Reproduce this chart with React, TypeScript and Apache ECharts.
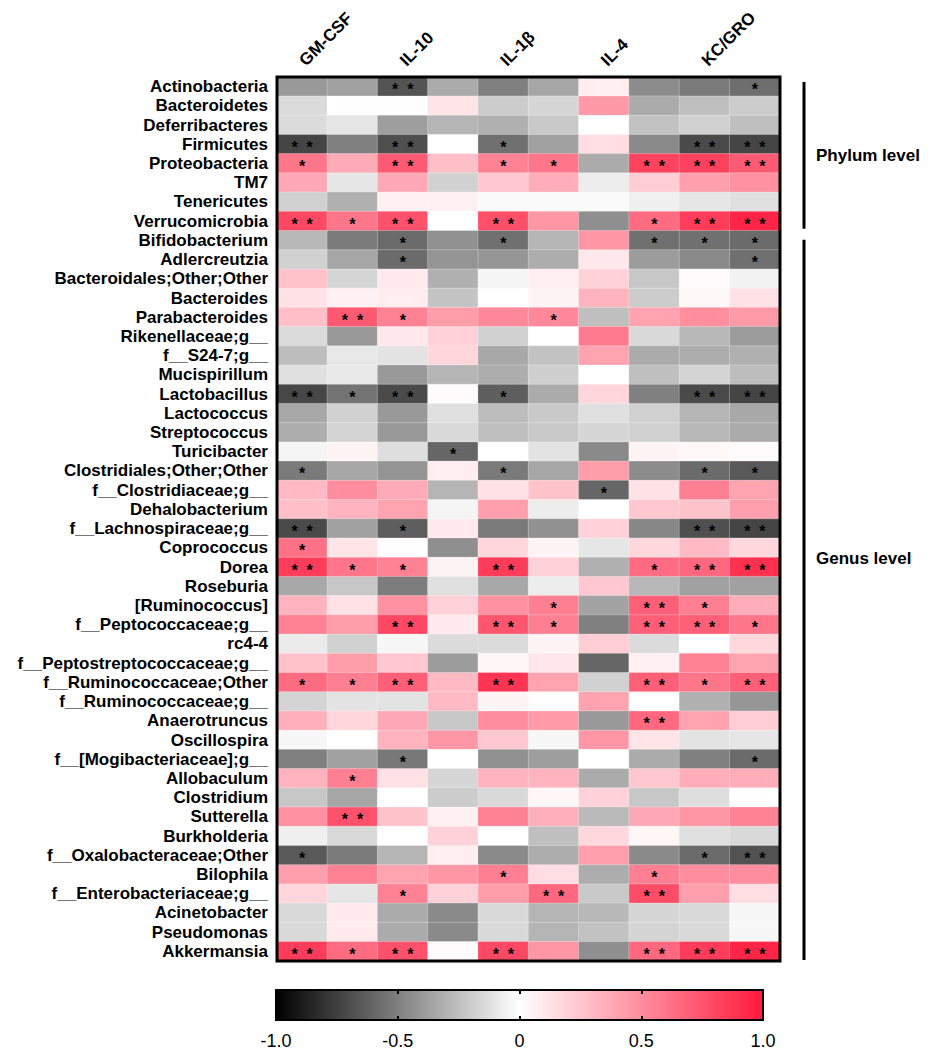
import React, { useEffect, useRef } from "react";
import * as echarts from "echarts";

const cytokines = ["GM-CSF", "IFN-γ", "IL-10", "IL-12p70", "IL-1β", "IL-2", "IL-4", "IL-5", "KC/GRO", "TNF-α"];

const phyla = [
  "Actinobacteria", "Bacteroidetes", "Deferribacteres", "Firmicutes",
  "Proteobacteria", "TM7", "Tenericutes", "Verrucomicrobia",
];

const genera = [
  "Bifidobacterium", "Adlercreutzia", "Bacteroidales;Other;Other", "Bacteroides",
  "Parabacteroides", "Rikenellaceae;g__", "f__S24-7;g__", "Mucispirillum",
  "Lactobacillus", "Lactococcus", "Streptococcus", "Turicibacter",
  "Clostridiales;Other;Other", "f__Clostridiaceae;g__", "Dehalobacterium",
  "f__Lachnospiraceae;g__", "Coprococcus", "Dorea", "Roseburia", "[Ruminococcus]",
  "f__Peptococcaceae;g__", "rc4-4", "f__Peptostreptococcaceae;g__",
  "f__Ruminococcaceae;Other", "f__Ruminococcaceae;g__", "Anaerotruncus",
  "Oscillospira", "f__[Mogibacteriaceae];g__", "Allobaculum", "Clostridium",
  "Sutterella", "Burkholderia", "f__Oxalobacteraceae;Other", "Bilophila",
  "f__Enterobacteriaceae;g__", "Acinetobacter", "Pseudomonas", "Akkermansia",
];

const phylumCorr = [
  [-0.40, -0.37, -0.67, -0.33, -0.50, -0.35, 0.08, -0.45, -0.52, -0.57],
  [-0.14, 0.01, 0.01, 0.12, -0.20, -0.16, 0.45, -0.33, -0.25, -0.20],
  [-0.14, -0.10, -0.38, -0.29, -0.31, -0.21, 0.00, -0.24, -0.18, -0.25],
  [-0.73, -0.50, -0.69, 0.00, -0.56, -0.37, 0.15, -0.46, -0.71, -0.73],
  [0.60, 0.37, 0.72, 0.28, 0.55, 0.60, -0.33, 0.82, 0.83, 0.72],
  [0.38, -0.10, 0.38, -0.18, 0.24, 0.36, -0.07, 0.22, 0.42, 0.48],
  [-0.18, -0.31, 0.06, 0.06, -0.02, -0.02, -0.02, -0.06, -0.10, -0.12],
  [0.80, 0.60, 0.76, 0.00, 0.77, 0.46, -0.44, 0.64, 0.85, 0.95],
];

const genusCorr = [
  [-0.28, -0.52, -0.58, -0.43, -0.56, -0.29, 0.46, -0.56, -0.56, -0.58],
  [-0.18, -0.35, -0.58, -0.42, -0.41, -0.32, 0.10, -0.39, -0.46, -0.56],
  [0.27, -0.16, 0.09, -0.31, -0.04, 0.08, 0.20, -0.22, 0.02, -0.05],
  [0.13, 0.06, 0.08, -0.23, 0.00, 0.05, 0.33, -0.20, 0.03, 0.13],
  [0.28, 0.73, 0.55, 0.43, 0.52, 0.52, -0.25, 0.40, 0.49, 0.44],
  [-0.14, -0.40, 0.10, 0.20, -0.18, 0.00, 0.58, -0.15, -0.28, -0.39],
  [-0.26, -0.09, -0.11, 0.18, -0.34, -0.24, 0.40, -0.33, -0.32, -0.31],
  [-0.12, -0.09, -0.40, -0.29, -0.32, -0.19, 0.00, -0.25, -0.17, -0.26],
  [-0.72, -0.55, -0.71, 0.02, -0.63, -0.33, 0.18, -0.50, -0.71, -0.73],
  [-0.34, -0.18, -0.40, -0.12, -0.26, -0.21, -0.12, -0.18, -0.29, -0.34],
  [-0.32, -0.17, -0.40, -0.15, -0.25, -0.21, -0.16, -0.18, -0.28, -0.33],
  [-0.04, 0.05, -0.13, -0.60, 0.00, -0.11, -0.46, 0.05, 0.03, 0.02],
  [-0.52, -0.35, -0.42, 0.08, -0.52, -0.35, 0.43, -0.45, -0.58, -0.65],
  [0.30, 0.50, 0.37, -0.29, 0.13, 0.26, -0.60, 0.13, 0.56, 0.40],
  [0.28, 0.33, 0.40, -0.04, 0.42, -0.07, 0.00, 0.24, 0.26, 0.42],
  [-0.71, -0.37, -0.63, 0.09, -0.52, -0.43, 0.20, -0.47, -0.69, -0.73],
  [0.62, 0.12, 0.01, -0.44, 0.18, 0.05, -0.10, 0.17, 0.30, 0.17],
  [0.85, 0.60, 0.55, 0.05, 0.85, 0.20, -0.31, 0.64, 0.66, 0.90],
  [-0.34, -0.22, -0.51, -0.12, -0.34, -0.07, 0.24, -0.28, -0.37, -0.37],
  [0.33, 0.13, 0.48, 0.20, 0.48, 0.56, -0.36, 0.70, 0.56, 0.36],
  [0.55, 0.43, 0.80, 0.09, 0.74, 0.56, -0.50, 0.70, 0.70, 0.60],
  [-0.08, -0.18, -0.03, -0.14, -0.14, 0.05, 0.22, -0.14, 0.00, 0.17],
  [0.27, 0.43, 0.24, -0.39, 0.04, 0.11, -0.60, 0.06, 0.55, 0.40],
  [0.64, 0.56, 0.70, 0.30, 0.88, 0.40, -0.18, 0.70, 0.60, 0.70],
  [-0.17, -0.11, -0.11, 0.30, 0.05, 0.01, 0.40, 0.00, -0.31, -0.41],
  [0.35, 0.18, 0.38, -0.22, 0.50, 0.44, -0.40, 0.66, 0.40, 0.22],
  [-0.03, 0.00, 0.33, 0.46, 0.24, -0.03, 0.46, 0.12, -0.11, -0.10],
  [-0.50, -0.37, -0.53, 0.00, -0.43, -0.38, 0.00, -0.33, -0.50, -0.58],
  [0.33, 0.56, 0.13, -0.16, 0.33, 0.33, -0.33, 0.24, 0.36, 0.36],
  [-0.22, -0.35, 0.00, -0.20, -0.15, 0.04, 0.20, -0.22, -0.13, 0.01],
  [0.48, 0.76, 0.26, 0.06, 0.55, 0.35, -0.27, 0.38, 0.46, 0.55],
  [-0.06, -0.15, 0.00, 0.20, 0.00, -0.25, 0.17, 0.04, -0.12, -0.15],
  [-0.65, -0.52, -0.29, 0.08, -0.46, -0.32, 0.42, -0.46, -0.58, -0.68],
  [0.42, 0.55, 0.40, 0.46, 0.56, 0.15, -0.32, 0.56, 0.50, 0.50],
  [0.18, -0.10, 0.55, 0.20, 0.43, 0.66, -0.21, 0.78, 0.42, 0.15],
  [-0.15, 0.09, -0.33, -0.46, -0.15, -0.29, -0.28, -0.16, -0.15, -0.03],
  [-0.15, 0.09, -0.33, -0.46, -0.15, -0.29, -0.24, -0.17, -0.15, -0.03],
  [0.85, 0.64, 0.76, 0.02, 0.80, 0.46, -0.44, 0.66, 0.85, 0.95],
];

// significance: 0 = none, 1 = *, 2 = **
const phylumSig = [
  "0020000001", "0000000000", "0000000000", "2020100022",
  "1020110222", "0000000000", "0000000000", "2120200122",
];
const genusSig = [
  "0010100111", "0010000001", "0000000000", "0000000000", "0210010000",
  "0000000000", "0000000000", "0000000000", "2120100022", "0000000000",
  "0000000000", "0001000000", "1000100011", "0000001000", "0000000000",
  "2010000022", "1000000000", "2110200122", "0000000000", "0000010210",
  "0020210221", "0000000000", "0000000000", "1120200212", "0000000000",
  "0000000200", "0000000000", "0010000001", "0100000000", "0000000000",
  "0200000000", "0000000000", "1000000012", "0000100100", "0010020200",
  "0000000000", "0000000000", "2120200222",
];

const colorbarTicks = [-1, -0.5, 0, 0.5, 1];

const FONT = "'Liberation Sans', Arial, Helvetica, sans-serif";
const GRID_LEFT = 277;
const GRID_TOP = 77;
const GRID_W = 503;
const GRID_H = 884;

export default function App() {
  const ref = useRef<HTMLDivElement>(null);

  useEffect(() => {
    if (!ref.current) return;
    const chart = echarts.init(ref.current, null, { renderer: "svg" });

    const rows = [...phyla, ...genera];
    const corr = [...phylumCorr, ...genusCorr];
    const sig = [...phylumSig, ...genusSig];
    const data: number[][] = [];
    corr.forEach((r, i) => r.forEach((v, j) => data.push([j, i, v])));

    const rowH = GRID_H / rows.length;
    const phylumEnd = GRID_TOP + phyla.length * rowH;
    const bracketX = 804;

    chart.setOption({
      animation: false,
      backgroundColor: "#ffffff",
      textStyle: { fontFamily: FONT },
      grid: [
        {
          left: GRID_LEFT, top: GRID_TOP, width: GRID_W, height: GRID_H,
          show: true, borderColor: "#000", borderWidth: 3, z: 10,
          backgroundColor: "transparent",
        },
        {
          left: 276, top: 990, width: 487, height: 31,
          show: true, borderColor: "#000", borderWidth: 2,
          backgroundColor: {
            type: "linear", x: 0, y: 0, x2: 1, y2: 0,
            colorStops: [
              { offset: 0, color: "#000000" },
              { offset: 0.5, color: "#ffffff" },
              { offset: 1, color: "#ff1a3c" },
            ],
          },
        },
      ],
      xAxis: [
        {
          type: "category", data: cytokines, gridIndex: 0, position: "top",
          axisLine: { show: false }, axisTick: { show: false }, splitLine: { show: false },
          axisLabel: {
            interval: 1, rotate: -45, fontSize: 17, fontWeight: "bold", color: "#000",
            fontFamily: FONT, margin: 14,
          },
        },
        {
          type: "value", gridIndex: 1, min: -1, max: 1, interval: 0.5, position: "bottom",
          axisLine: { show: false }, splitLine: { show: false },
          axisTick: { show: true, inside: true, length: 4, lineStyle: { color: "#000", width: 2 } },
          axisLabel: {
            fontSize: 18, color: "#000", fontFamily: FONT, margin: 12,
            customValues: colorbarTicks,
            formatter: (v: number) => (v === 0 ? "0" : v.toFixed(1)),
          },
        },
        {
          type: "value", gridIndex: 1, min: -1, max: 1, interval: 0.5, position: "top",
          axisLine: { show: false }, splitLine: { show: false }, axisLabel: { show: false },
          axisTick: { show: true, inside: true, length: 4, lineStyle: { color: "#000", width: 2 } },
        },
      ],
      yAxis: [
        {
          type: "category", data: rows, gridIndex: 0, inverse: true,
          axisLine: { show: false }, axisTick: { show: false }, splitLine: { show: false },
          axisLabel: {
            interval: 0, fontSize: 17, fontWeight: "bold", color: "#000",
            fontFamily: FONT, margin: 9, lineHeight: 17,
          },
        },
        { type: "value", gridIndex: 1, show: false, min: 0, max: 1 },
      ],
      visualMap: {
        show: false, type: "continuous", min: -1, max: 1, dimension: 2, seriesIndex: 0,
        inRange: { color: ["#000000", "#ffffff", "#ff1a3c"] },
      },
      series: [
        {
          type: "heatmap", xAxisIndex: 0, yAxisIndex: 0, data,
          itemStyle: { borderColor: "rgba(255,255,255,0.25)", borderWidth: 1 },
          label: {
            show: true, color: "#000", fontSize: 16, fontWeight: "bold", lineHeight: 12,
            fontFamily: FONT, offset: [0, 3],
            formatter: (p: any) => {
              const s = sig[p.data[1]][p.data[0]];
              return s === "2" ? "*  *" : s === "1" ? "*" : "";
            },
          },
          emphasis: { disabled: true },
        },
      ],
      graphic: [
        {
          type: "line", silent: true,
          shape: { x1: bracketX, y1: GRID_TOP + 5, x2: bracketX, y2: phylumEnd - 2 },
          style: { stroke: "#000", lineWidth: 3 },
        },
        {
          type: "line", silent: true,
          shape: { x1: bracketX, y1: phylumEnd + 9, x2: bracketX, y2: GRID_TOP + GRID_H - 1 },
          style: { stroke: "#000", lineWidth: 3 },
        },
        {
          type: "text", silent: true, x: 816, y: (GRID_TOP + phylumEnd) / 2 + 2,
          style: {
            text: "Phylum level", fontSize: 17, fontWeight: "bold", fill: "#000",
            fontFamily: FONT, verticalAlign: "middle", align: "left",
          },
        },
        {
          type: "text", silent: true, x: 816, y: 558,
          style: {
            text: "Genus level", fontSize: 17, fontWeight: "bold", fill: "#000",
            fontFamily: FONT, verticalAlign: "middle", align: "left",
          },
        },
      ],
    });

    return () => chart.dispose();
  }, []);

  return (
    <div
      ref={ref}
      style={{ position: "fixed", left: 0, top: 0, width: 935, height: 1050 }}
    />
  );
}
